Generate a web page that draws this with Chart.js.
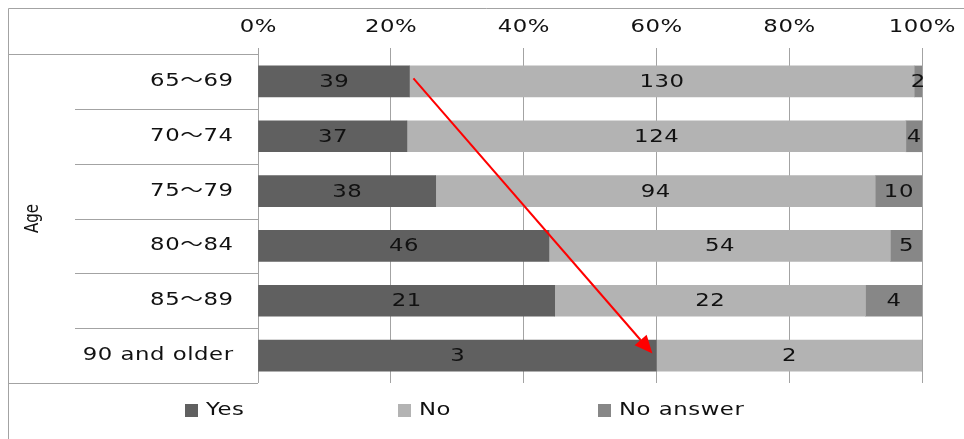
<!DOCTYPE html>
<html>
<head>
<meta charset="utf-8">
<script src="https://cdn.jsdelivr.net/npm/chart.js@4"></script>
<style>
  html, body { margin: 0; padding: 0; background: #fff; }
  #wrap { width: 964px; height: 439px; }
</style>
</head>
<body>
<div id="wrap"><canvas id="ageChart" width="964" height="439"></canvas></div>
<script>
const ageGroups = ['65～69', '70～74', '75～79', '80～84', '85～89', '90 and older'];
const yesCounts = [39, 37, 38, 46, 21, 3];
const noCounts = [130, 124, 94, 54, 22, 2];
const noAnswerCounts = [2, 4, 10, 5, 4, 0];
const seriesNames = ['Yes', 'No', 'No answer'];
const seriesColors = ['#606060', '#b3b3b3', '#878787'];
const xTicks = [0, 20, 40, 60, 80, 100];

const FONT = '"DejaVu Sans", "Noto Sans CJK JP", sans-serif';

// share of each answer per age group, in percent
const rowTotals = ageGroups.map((g, i) => yesCounts[i] + noCounts[i] + noAnswerCounts[i]);
const toPct = arr => arr.map((v, i) => v / rowTotals[i] * 100);
const countSets = [yesCounts, noCounts, noAnswerCounts];

const frameLeft = 8, frameTop = 8, labelColLeft = 75;

// horizontally widened text (the office-style look of the labels)
const STRETCH = 1.34, SPACING = 0.4;
function wideText(ctx, text, x, y, align) {
  ctx.save();
  ctx.letterSpacing = '0px';
  const w = (ctx.measureText(text).width + SPACING * (text.length - 1)) * STRETCH;
  let left = x;
  if (align === 'center') left = x - w / 2;
  else if (align === 'right') left = x - w;
  ctx.translate(left, y);
  ctx.scale(STRETCH, 1);
  ctx.letterSpacing = SPACING + 'px';
  ctx.textAlign = 'left';
  ctx.textBaseline = 'middle';
  ctx.fillText(text, 0, 0);
  ctx.restore();
}

const tablePlugin = {
  id: 'tableFrame',
  afterDraw(chart) {
    const ctx = chart.ctx;
    const area = chart.chartArea;
    const x = chart.scales.x, y = chart.scales.y;
    ctx.save();

    // outer frame + header/footer rules of the label column
    ctx.strokeStyle = '#a3a3a3';
    ctx.lineWidth = 1;
    ctx.beginPath();
    ctx.moveTo(frameLeft + 0.5, chart.height);
    ctx.lineTo(frameLeft + 0.5, frameTop + 0.5);
    ctx.lineTo(chart.width, frameTop + 0.5);
    ctx.moveTo(frameLeft, Math.round(area.top) + 0.5);
    ctx.lineTo(area.left, Math.round(area.top) + 0.5);
    ctx.moveTo(frameLeft, Math.round(area.bottom) + 0.5);
    ctx.lineTo(area.left, Math.round(area.bottom) + 0.5);
    // separators between age groups
    const band = (area.bottom - area.top) / ageGroups.length;
    for (let i = 1; i < ageGroups.length; i++) {
      const yy = Math.round(area.top + band * i) + 0.5;
      ctx.moveTo(labelColLeft, yy);
      ctx.lineTo(area.left, yy);
    }
    ctx.stroke();

    ctx.fillStyle = '#111';
    ctx.font = '17px ' + FONT;

    // percent ticks along the top
    x.ticks.forEach(t => {
      wideText(ctx, t.value + '%', x.getPixelForValue(t.value), 28, 'center');
    });
    // age groups, right aligned in the label column
    ageGroups.forEach((g, i) => {
      wideText(ctx, g, area.left - 25, y.getPixelForValue(i), 'right');
    });

    // counts inside each segment
    chart.data.datasets.forEach((ds, di) => {
      const meta = chart.getDatasetMeta(di);
      meta.data.forEach((bar, i) => {
        const n = countSets[di][i];
        if (!n) return;
        wideText(ctx, String(n), (bar.x + bar.base) / 2, bar.y + 1, 'center');
      });
    });

    // legend
    const legendX = [185, 398, 598];
    const legendY = 410;
    seriesNames.forEach((name, i) => {
      ctx.fillStyle = seriesColors[i];
      ctx.fillRect(legendX[i], legendY - 6, 13, 13);
      ctx.fillStyle = '#111';
      wideText(ctx, name, legendX[i] + 21, legendY + 1, 'left');
    });

    // axis title, rotated
    ctx.font = '15px ' + FONT;
    ctx.translate(33, (area.top + area.bottom) / 2);
    ctx.scale(1.35, 1);
    ctx.rotate(-Math.PI / 2);
    ctx.textAlign = 'center';
    ctx.textBaseline = 'middle';
    ctx.fillText('Age', 0, 0);
    ctx.setTransform(1, 0, 0, 1, 0, 0);

    // red trend arrow between the "Yes" ends of the first and last groups
    const first = 0, last = ageGroups.length - 1;
    const x0 = x.getPixelForValue(toPct(yesCounts)[first]) + 4;
    const y0 = y.getPixelForValue(first) - 3;
    const x1 = x.getPixelForValue(toPct(yesCounts)[last]) - 4;
    const y1 = y.getPixelForValue(last) - 2;
    const ang = Math.atan2(y1 - y0, x1 - x0);
    const headLen = 18, headW = 8;
    const bx = x1 - headLen * Math.cos(ang), by = y1 - headLen * Math.sin(ang);
    ctx.strokeStyle = '#ff0000';
    ctx.fillStyle = '#ff0000';
    ctx.lineWidth = 2;
    ctx.beginPath();
    ctx.moveTo(x0, y0);
    ctx.lineTo(bx, by);
    ctx.stroke();
    ctx.beginPath();
    ctx.moveTo(x1, y1);
    ctx.lineTo(bx + headW * Math.sin(ang), by - headW * Math.cos(ang));
    ctx.lineTo(bx - headW * Math.sin(ang), by + headW * Math.cos(ang));
    ctx.closePath();
    ctx.fill();

    ctx.restore();
  }
};

new Chart(document.getElementById('ageChart'), {
  type: 'bar',
  data: {
    labels: ageGroups,
    datasets: countSets.map((arr, i) => ({
      label: seriesNames[i],
      data: toPct(arr),
      backgroundColor: seriesColors[i],
      borderWidth: 0,
      barThickness: 31
    }))
  },
  options: {
    indexAxis: 'y',
    responsive: false,
    animation: false,
    layout: { padding: { left: 8, right: 42, top: 8, bottom: 56 } },
    plugins: { legend: { display: false }, tooltip: { enabled: false } },
    scales: {
      x: {
        position: 'top',
        stacked: true,
        min: 0,
        max: 100,
        afterBuildTicks: s => { s.ticks = xTicks.map(v => ({ value: v })); },
        afterFit: s => { s.height = 46; },
        grid: { color: '#a3a3a3', lineWidth: 1, tickLength: 6 },
        border: { display: false },
        ticks: { display: false }
      },
      y: {
        stacked: true,
        afterFit: s => { s.width = 250; },
        grid: { display: false },
        border: { display: false },
        ticks: { display: false }
      }
    }
  },
  plugins: [tablePlugin]
});
</script>
</body>
</html>
